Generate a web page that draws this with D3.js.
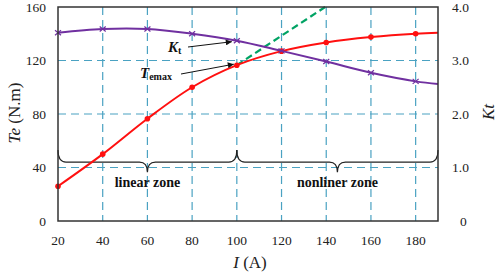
<!DOCTYPE html>
<html><head><meta charset="utf-8">
<script src="https://cdn.jsdelivr.net/npm/d3@7/dist/d3.min.js"></script>
</head><body style="margin:0;background:#fff"><svg id="c" width="498" height="276" style="display:block"></svg>
<script>
const currentI = [20,40,60,80,100,120,140,160,180,190];
const teValues = [26,50,76.5,100,116.5,127,133.5,137.5,140,140.7];
const ktValues = [3.52,3.59,3.59,3.5,3.37,3.18,2.98,2.77,2.61,2.56];
const linearExt = [[100,116.5],[139.5,160]];
const xTicks = [20,40,60,80,100,120,140,160,180];
const teTicks = [0,40,80,120,160];
const ktTicks = [0,1.0,2.0,3.0,4.0];
const zones = [{label:"linear zone",from:20,to:100},{label:"nonliner zone",from:100,to:190}];

const FONT = "Liberation Serif";
const svg = d3.select("#c");
const L=58,R=438,T=7,B=221;
const x = d3.scaleLinear().domain([20,190]).range([L,R]);
const y = d3.scaleLinear().domain([0,160]).range([B,T]);
const y2 = d3.scaleLinear().domain([0,4]).range([B,T]);
const grid="#4aa2c2";

// grid
svg.append("g").selectAll("line").data(xTicks.filter(d=>d>20)).join("line")
  .attr("x1",d=>x(d)).attr("x2",d=>x(d)).attr("y1",T).attr("y2",B)
  .attr("stroke",grid).attr("stroke-width",1.2).attr("stroke-dasharray","8,5");
svg.append("g").selectAll("line").data(teTicks.filter(d=>d>0&&d<160)).join("line")
  .attr("x1",L).attr("x2",R).attr("y1",d=>y(d)).attr("y2",d=>y(d))
  .attr("stroke",grid).attr("stroke-width",1.2).attr("stroke-dasharray","8,5");

// braces
function brace(x1,x2,yl,yt,ye){
  const m=(x1+x2)/2, r=8;
  return `M${x1},${ye} Q${x1},${yl} ${x1+r},${yl} L${m-r},${yl} Q${m},${yl} ${m},${yt} Q${m},${yl} ${m+r},${yl} L${x2-r},${yl} Q${x2},${yl} ${x2},${ye}`;
}
zones.forEach(z=>{
  svg.append("path").attr("d",brace(x(z.from),x(z.to),y(44),y(36.5),y(53)))
    .attr("fill","none").attr("stroke","#222").attr("stroke-width",1.2);
  svg.append("text").attr("x",(x(z.from)+x(z.to))/2).attr("y",187).attr("text-anchor","middle")
    .attr("font-weight","bold").attr("font-size",14).attr("fill","#111").text(z.label);
});

// green dashed extension
svg.append("path").datum(linearExt).attr("d",d3.line().x(d=>x(d[0])).y(d=>y(d[1])))
  .attr("fill","none").attr("stroke","#00a364").attr("stroke-width",2.2).attr("stroke-dasharray","7,4");

// Te curve
const pts = currentI.map((c,i)=>[c,teValues[i]]);
svg.append("path").datum(pts).attr("d",d3.line().x(d=>x(d[0])).y(d=>y(d[1])).curve(d3.curveCatmullRom))
  .attr("fill","none").attr("stroke","#ff1010").attr("stroke-width",2);
svg.append("g").selectAll("circle").data(pts.slice(0,9)).join("circle")
  .attr("cx",d=>x(d[0])).attr("cy",d=>y(d[1])).attr("r",2.8).attr("fill","#ff1010");

// Kt curve
const kpts = currentI.map((c,i)=>[c,ktValues[i]]);
svg.append("path").datum(kpts).attr("d",d3.line().x(d=>x(d[0])).y(d=>y2(d[1])).curve(d3.curveCatmullRom))
  .attr("fill","none").attr("stroke","#7030a0").attr("stroke-width",2);
svg.append("g").selectAll("path").data(kpts.slice(0,9)).join("path")
  .attr("d",d=>{const cx=x(d[0]),cy=y2(d[1]);return `M${cx-3},${cy-2.5}L${cx+3},${cy+2.5}M${cx-3},${cy+2.5}L${cx+3},${cy-2.5}`;})
  .attr("stroke","#7030a0").attr("stroke-width",1.2);

// frame
svg.append("rect").attr("x",L).attr("y",T).attr("width",R-L).attr("height",B-T)
  .attr("fill","none").attr("stroke","#333").attr("stroke-width",1.5);

// axes labels
const ax = svg.append("g").attr("fill","#222");
ax.selectAll(".xt").data(xTicks).join("text").attr("font-size",13.5).attr("x",d=>x(d)).attr("y",245).attr("text-anchor","middle").text(d=>d);
ax.selectAll(".yt").data(teTicks).join("text").attr("font-size",13.5).attr("x",46).attr("y",d=>y(d)+4.5).attr("text-anchor","end").text(d=>d);
ax.selectAll(".kt").data(ktTicks).join("text").attr("font-size",13.5).attr("x",d=>d===0?460:452).attr("y",d=>y2(d)+4.5).attr("text-anchor","start").text(d=>d===0?"0":d.toFixed(1));

// titles
const yt = svg.append("text").attr("transform","translate(20,113) rotate(-90)").attr("text-anchor","middle").attr("font-size",17).attr("fill","#222");
yt.append("tspan").attr("font-style","italic").text("Te");
yt.append("tspan").text(" (N.m)");
svg.append("text").attr("transform","translate(494,112) rotate(-90)").attr("text-anchor","middle").attr("font-size",17).attr("font-style","italic").attr("fill","#222").text("Kt");
const xt = svg.append("text").attr("x",250).attr("y",268).attr("text-anchor","middle").attr("font-size",17).attr("fill","#222");
xt.append("tspan").attr("font-style","italic").text("I");
xt.append("tspan").text(" (A)");

// annotations
svg.append("defs").append("marker").attr("id","ah").attr("viewBox","0 0 10 10").attr("refX",10).attr("refY",5)
  .attr("markerWidth",8).attr("markerHeight",6).attr("markerUnits","userSpaceOnUse").attr("orient","auto")
  .append("path").attr("d","M0,0L10,5L0,10Z").attr("fill","#111");
svg.append("line").attr("x1",188).attr("y1",47).attr("x2",x(100)-5).attr("y2",y2(3.37)+1)
  .attr("stroke","#111").attr("stroke-width",1).attr("marker-end","url(#ah)");
svg.append("line").attr("x1",181).attr("y1",74).attr("x2",x(100)-3).attr("y2",y(116.5)-1)
  .attr("stroke","#111").attr("stroke-width",1).attr("marker-end","url(#ah)");
const k = svg.append("text").attr("x",168).attr("y",52).attr("font-weight","bold").attr("font-size",15).attr("fill","#111");
k.append("tspan").attr("font-style","italic").text("K");
k.append("tspan").attr("font-size",10).attr("dy",2).text("t");
const te = svg.append("text").attr("x",140).attr("y",78).attr("font-weight","bold").attr("font-size",15).attr("fill","#111");
te.append("tspan").attr("font-style","italic").text("T");
te.append("tspan").attr("font-size",10).attr("dy",2).text("emax");

// apply font to every text and tspan
svg.selectAll("text,tspan").attr("font-family",FONT).style("font-family",`"${FONT}"`,"important");
</script></body></html>
